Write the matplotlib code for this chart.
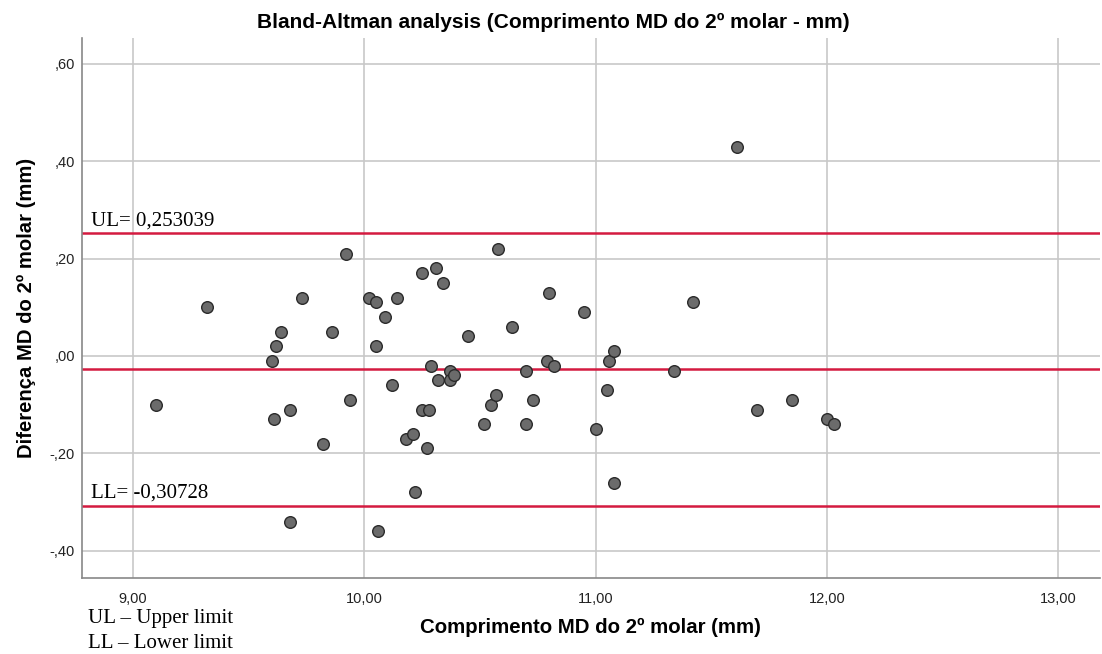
import matplotlib.pyplot as plt
from matplotlib.ticker import FuncFormatter

# mean MD length of the 2nd molar (mm) and the difference between the two measurements
media = [9.10, 9.32, 9.60, 9.61, 9.62, 9.64, 9.68, 9.68, 9.73, 9.82,
         9.86, 9.92, 9.94, 10.02, 10.05, 10.05, 10.06, 10.09, 10.12, 10.14,
         10.18, 10.21, 10.22, 10.25, 10.25, 10.27, 10.29, 10.28, 10.31, 10.32,
         10.34, 10.37, 10.37, 10.39, 10.45, 10.52, 10.55, 10.57, 10.58, 10.64,
         10.70, 10.70, 10.73, 10.79, 10.80, 10.82, 10.95, 11.00, 11.05, 11.06,
         11.08, 11.08, 11.34, 11.42, 11.61, 11.70, 11.85, 12.00, 12.03]
diferenca = [-0.10, 0.10, -0.01, -0.13, 0.02, 0.05, -0.11, -0.34, 0.12, -0.18,
             0.05, 0.21, -0.09, 0.12, 0.11, 0.02, -0.36, 0.08, -0.06, 0.12,
             -0.17, -0.16, -0.28, 0.17, -0.11, -0.19, -0.02, -0.11, 0.18, -0.05,
             0.15, -0.03, -0.05, -0.04, 0.04, -0.14, -0.10, -0.08, 0.22, 0.06,
             -0.03, -0.14, -0.09, -0.01, 0.13, -0.02, 0.09, -0.15, -0.07, -0.01,
             0.01, -0.26, -0.03, 0.11, 0.43, -0.11, -0.09, -0.13, -0.14]

ul = 0.253039
ll = -0.30728
media_dif = (ul + ll) / 2

xticks = [9, 10, 11, 12, 13]
yticks = [-0.4, -0.2, 0.0, 0.2, 0.4, 0.6]

plt.rcParams['font.family'] = ['Liberation Sans', 'DejaVu Sans']

fig = plt.figure(figsize=(11.02, 6.54), dpi=100)
ax = fig.add_axes([0.0744, 0.1162, 0.9236, 0.8257])

ax.set_xlim(8.78, 13.18)
ax.set_ylim(-0.456, 0.653)
ax.set_xticks(xticks)
ax.set_yticks(yticks)


def spss_fmt(v, pos):
    # SPSS style: comma decimal, no leading zero
    s = '%.2f' % v
    s = s.replace('0.', '.', 1) if abs(v) < 1 else s
    if s == '-.00':
        s = '.00'
    return s.replace('.', ',')


ax.xaxis.set_major_formatter(FuncFormatter(spss_fmt))
ax.yaxis.set_major_formatter(FuncFormatter(spss_fmt))
ax.tick_params(length=0, labelsize=10.5, colors='#222222')
ax.tick_params(axis='y', pad=5)
ax.tick_params(axis='x', pad=10)

ax.grid(True, color='#c8c8c8', linewidth=1.2)
ax.set_axisbelow(True)
for s in ['top', 'right']:
    ax.spines[s].set_visible(False)
for s in ['left', 'bottom']:
    ax.spines[s].set_color('#888888')
    ax.spines[s].set_linewidth(1.2)

for yv in [ul, media_dif, ll]:
    ax.axhline(yv, color='#d41a40', linewidth=1.8, zorder=2)

ax.scatter(media, diferenca, s=70, facecolor='#6b6b6b', edgecolor='#2a2a2a',
           linewidth=1.0, zorder=3)

serif = ['Liberation Serif', 'DejaVu Serif']
ax.text(8.82, ul + 0.004, 'UL= ' + ('%.6f' % ul).replace('.', ','),
        family=serif, fontsize=15, va='bottom', ha='left')
ax.text(8.82, ll + 0.006, 'LL= ' + ('%.5f' % ll).replace('.', ','),
        family=serif, fontsize=15, va='bottom', ha='left')
fig.text(88 / 1102, 1 - 619 / 654, 'UL \u2013 Upper limit', family=serif,
         fontsize=15, va='center', ha='left')
fig.text(88 / 1102, 1 - 644 / 654, 'LL \u2013 Lower limit', family=serif,
         fontsize=15, va='center', ha='left')

fig.text(0.502, 1 - 22 / 654, 'Bland-Altman analysis (Comprimento MD do 2º molar - mm)',
         ha='center', va='center', fontsize=15, fontweight='bold')
ax.set_xlabel('Comprimento MD do 2º molar (mm)', fontsize=14.7, fontweight='bold',
              labelpad=9)
ax.set_ylabel('Diferença MD do 2º molar (mm)', fontsize=14.6, fontweight='bold',
              labelpad=10)

fig.savefig('out.png', dpi=100)
